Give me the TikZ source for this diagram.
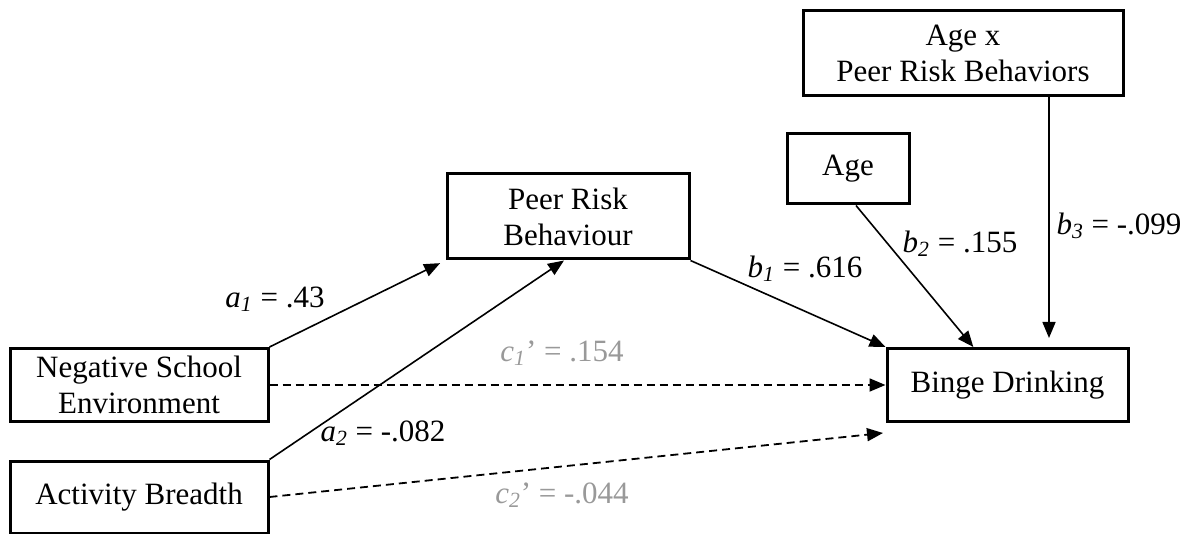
\documentclass[tikz,border=0pt]{standalone}
\usepackage{fontspec}
\setmainfont{Liberation Serif}
\usepackage{xcolor}
\usetikzlibrary{arrows.meta,calc}

\newcommand{\coef}[2]{\textit{#1}\textsubscript{\textit{#2}}}

\begin{document}
\begin{tikzpicture}[x=0.5pt,y=-0.5pt,
    var/.style={draw,line width=1.5pt,align=center,inner sep=2pt,
                font=\fontsize{15.5}{18}\selectfont},
    coeflab/.style={font=\fontsize{15.5}{18}\selectfont,inner sep=1pt},
    direct/.style={coeflab,text=black!40},
    arrow/.style={-{Triangle[length=8pt,width=6.5pt]},line width=0.8pt},
    dasharrow/.style={arrow,line width=0.9pt,dash pattern=on 4pt off 2.5pt}
  ]
    \useasboundingbox (0,0) rectangle (1189,534);
    \node[var,minimum width=129pt,minimum height=36.5pt] (nse) at (139,385)
      {Negative School\\Environment};
    \node[var,minimum width=129pt,minimum height=36pt] (ab) at (139,497)
      {Activity Breadth};
    \node[var,minimum width=121pt,minimum height=42.5pt] (prb) at (568,216.5)
      {Peer Risk\\Behaviour};
    \node[var,minimum width=61pt,minimum height=35pt] (age) at (848,169)
      {Age};
    \node[var,minimum width=160pt,minimum height=42.5pt] (axp) at (963,53.5)
      {Age x\\Peer Risk Behaviors};
    \node[var,minimum width=120.5pt,minimum height=36.5pt] (bd) at (1007.5,385)
      {Binge Drinking};
    \coordinate (b3end) at (1049,338);
    \coordinate (c2end) at (883,433);
    \draw[arrow,shorten >=3pt] (nse.north east) -- (prb.south west);
    \draw[arrow] (ab.north east) -- ([xshift=-2pt]prb.south);
    \draw[arrow] (prb.south east) -- (bd.north west);
    \draw[arrow] ([xshift=4pt]age.south) -- ($(bd.north west)!0.36!(bd.north east)$);
    \draw[arrow] (axp.south -| b3end) -- (b3end);
    \draw[dasharrow] (nse.east) -- (bd.west);
    \draw[dasharrow] (ab.east) -- (c2end);
    \node[coeflab] (la1) at (275,299) {\coef{a}{1} = .43};
    \node[coeflab] (la2) at (383,433) {\coef{a}{2} = -.082};
    \node[coeflab] (lb1) at (805,269) {\coef{b}{1} = .616};
    \node[coeflab] (lb2) at (960,244) {\coef{b}{2} = .155};
    \node[coeflab] (lb3) at (1119,226) {\coef{b}{3} = -.099};
    \node[direct] (lc1) at (562,353) {\coef{c}{1}’ = .154};
    \node[direct] (lc2) at (562,495) {\coef{c}{2}’ = -.044};
  \end{tikzpicture}
\end{document}
